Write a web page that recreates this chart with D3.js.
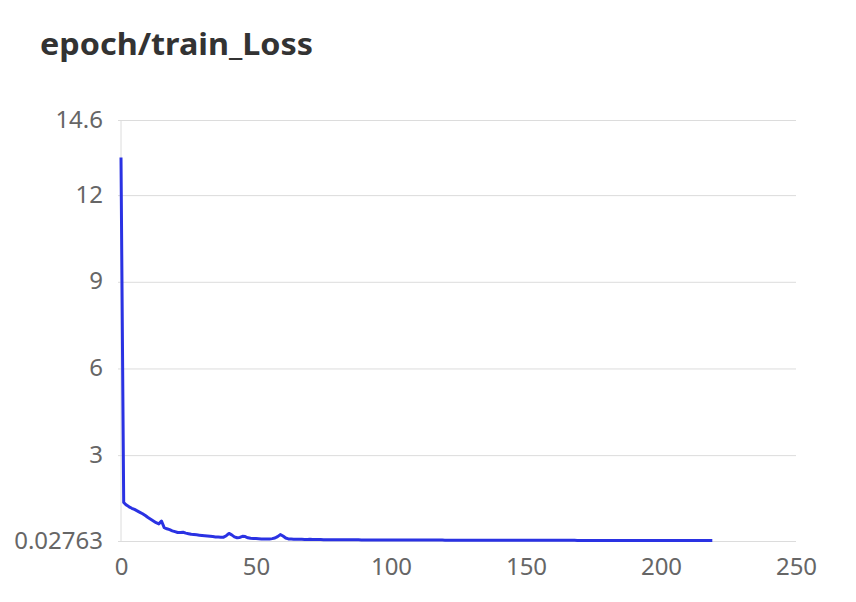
<!DOCTYPE html>
<html>
<head>
<meta charset="utf-8">
<script src="https://cdn.jsdelivr.net/npm/d3@7"></script>
<style>
  html, body { margin: 0; padding: 0; background: #fff; }
  svg { display: block; }
</style>
</head>
<body>
<svg id="chart" width="856" height="602"></svg>
<script>
const title = "epoch/train_Loss";
const xTicks = [0, 50, 100, 150, 200, 250];
const yTicks = [0.02763, 3, 6, 9, 12, 14.6];
const yTickLabels = ["0.02763", "3", "6", "9", "12", "14.6"];
const lossValues = [
  13.3, 1.36, 1.27, 1.21, 1.16, 1.12, 1.07, 1.02, 0.97, 0.91,
  0.84, 0.78, 0.72, 0.66, 0.62, 0.72, 0.49, 0.45, 0.42, 0.38,
  0.35, 0.32, 0.32, 0.33, 0.30, 0.28, 0.26, 0.25, 0.24, 0.23,
  0.22, 0.21, 0.20, 0.19, 0.18, 0.17, 0.165, 0.16, 0.16, 0.21,
  0.29, 0.24, 0.17, 0.14, 0.15, 0.19, 0.18, 0.14, 0.12, 0.115,
  0.11, 0.105, 0.10, 0.10, 0.10, 0.10, 0.11, 0.13, 0.18, 0.25,
  0.20, 0.13, 0.10, 0.095, 0.09, 0.09, 0.088, 0.085, 0.082, 0.08,
  0.09, 0.082, 0.078, 0.077, 0.076, 0.075, 0.074, 0.073, 0.072, 0.072,
  0.071, 0.070, 0.070, 0.069, 0.069, 0.068, 0.068, 0.067, 0.067, 0.066,
  0.066, 0.066, 0.065, 0.065, 0.065, 0.064, 0.064, 0.064, 0.063, 0.063,
  0.066, 0.063, 0.062, 0.062, 0.062, 0.061, 0.061, 0.061, 0.060, 0.060,
  0.060, 0.060, 0.059, 0.059, 0.059, 0.059, 0.058, 0.058, 0.058, 0.058,
  0.057, 0.057, 0.057, 0.057, 0.057, 0.056, 0.056, 0.056, 0.056, 0.056,
  0.055, 0.055, 0.055, 0.055, 0.055, 0.055, 0.054, 0.054, 0.054, 0.054,
  0.054, 0.054, 0.053, 0.053, 0.053, 0.053, 0.053, 0.053, 0.052, 0.052,
  0.052, 0.052, 0.052, 0.052, 0.052, 0.051, 0.051, 0.051, 0.051, 0.051,
  0.051, 0.051, 0.050, 0.050, 0.050, 0.050, 0.050, 0.050, 0.050, 0.049,
  0.049, 0.049, 0.049, 0.049, 0.049, 0.049, 0.049, 0.048, 0.048, 0.048,
  0.048, 0.048, 0.048, 0.048, 0.048, 0.047, 0.047, 0.047, 0.047, 0.047,
  0.047, 0.047, 0.047, 0.047, 0.046, 0.046, 0.046, 0.046, 0.046, 0.046,
  0.046, 0.046, 0.046, 0.045, 0.045, 0.045, 0.045, 0.045, 0.045, 0.045,
  0.045, 0.045, 0.045, 0.045, 0.044, 0.044, 0.044, 0.044, 0.044, 0.044
];
const epochs = lossValues.map((_, i) => i);

const svg = d3.select("#chart");
const fontFamily = "'Noto Sans', 'Open Sans', sans-serif";

const x = d3.scaleLinear().domain([0, 250]).range([121, 796]);
const y = d3.scaleLinear().domain([0.02763, 14.6]).range([541, 120]);

svg.append("text")
  .attr("x", 40).attr("y", 55)
  .attr("font-family", fontFamily)
  .attr("font-size", 31).attr("font-weight", "bold")
  .attr("fill", "#333")
  .attr("textLength", 273).attr("lengthAdjust", "spacingAndGlyphs")
  .text(title);

// y axis with gridlines
const yAxis = d3.axisLeft(y)
  .tickValues(yTicks)
  .tickFormat((d, i) => yTickLabels[i])
  .tickSize(-(796 - 118))
  .tickPadding(15);
const gy = svg.append("g").attr("transform", "translate(118,0)").call(yAxis);
gy.select(".domain").remove();
gy.selectAll(".tick line").attr("stroke", "#dcdcdc").attr("stroke-width", 1);
gy.selectAll(".tick text")
  .attr("font-family", fontFamily).attr("font-size", 24).attr("fill", "#666")
  .attr("dy", "0.3em");

// vertical axis line
svg.append("line")
  .attr("x1", x(0)).attr("x2", x(0))
  .attr("y1", y(14.6)).attr("y2", y(0.02763))
  .attr("stroke", "#dcdcdc").attr("stroke-width", 1);

// x axis labels
const xAxis = d3.axisBottom(x).tickValues(xTicks).tickSize(0).tickPadding(17);
const gx = svg.append("g").attr("transform", `translate(0,${y(0.02763)})`).call(xAxis);
gx.select(".domain").remove();
gx.selectAll(".tick text")
  .attr("font-family", fontFamily).attr("font-size", 24).attr("fill", "#666");

const line = d3.line().x((d, i) => x(epochs[i])).y(d => y(d));
svg.append("path")
  .datum(lossValues)
  .attr("d", line)
  .attr("fill", "none")
  .attr("stroke", "#2a32e3")
  .attr("stroke-width", 3)
  .attr("stroke-linejoin", "round");
</script>
</body>
</html>
